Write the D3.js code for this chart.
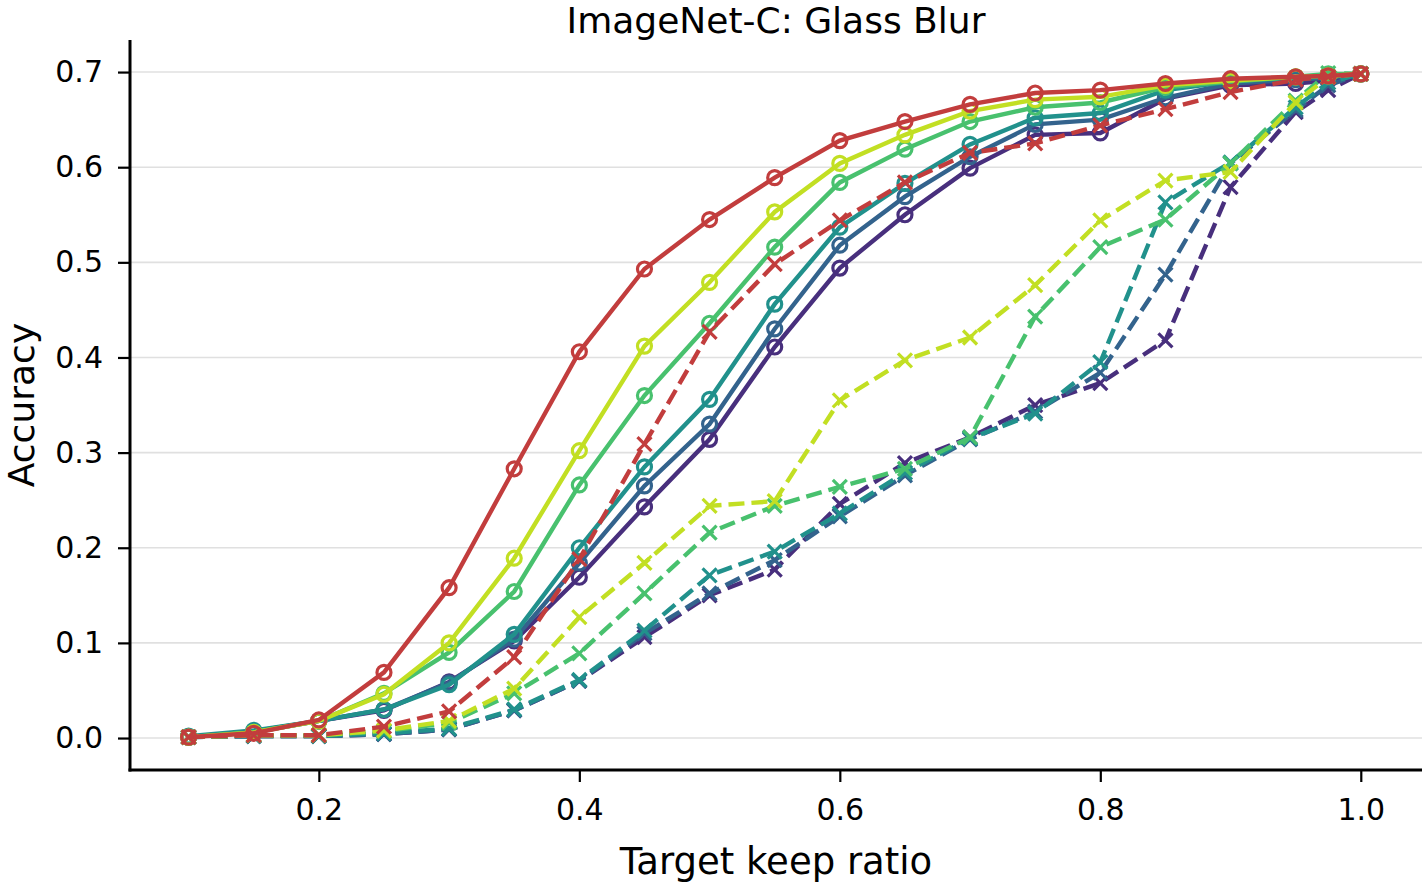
<!DOCTYPE html>
<html>
<head>
<meta charset="utf-8">
<script src="https://cdn.jsdelivr.net/npm/d3@7"></script>
<style>
body { margin: 0; background: #fff; }
svg { font-family: "DejaVu Sans", sans-serif; }
</style>
</head>
<body>
<svg id="chart" width="1424" height="883"></svg>
<script>
// keep ratios on the x axis
var ratios = [0.1, 0.15, 0.2, 0.25, 0.3, 0.35, 0.4, 0.45, 0.5, 0.55, 0.6, 0.65, 0.7, 0.75, 0.8, 0.85, 0.9, 0.95, 0.975, 1.0]

// solid lines (circle markers)
var solidPurple = [0.001, 0.006, 0.018, 0.029, 0.059, 0.102, 0.169, 0.243, 0.314, 0.411, 0.494, 0.550, 0.599, 0.634, 0.636, 0.672, 0.686, 0.688, 0.691, 0.698]
var solidBlue   = [0.001, 0.007, 0.018, 0.030, 0.058, 0.104, 0.184, 0.265, 0.330, 0.430, 0.518, 0.569, 0.611, 0.645, 0.650, 0.673, 0.688, 0.692, 0.694, 0.698]
var solidTeal   = [0.002, 0.008, 0.018, 0.030, 0.056, 0.109, 0.200, 0.285, 0.356, 0.456, 0.537, 0.583, 0.624, 0.652, 0.657, 0.681, 0.690, 0.694, 0.695, 0.698]
var solidGreen  = [0.001, 0.006, 0.018, 0.047, 0.090, 0.154, 0.266, 0.360, 0.436, 0.516, 0.584, 0.619, 0.648, 0.663, 0.668, 0.684, 0.690, 0.695, 0.698, 0.698]
var solidYellow = [0.001, 0.006, 0.018, 0.046, 0.100, 0.189, 0.302, 0.412, 0.479, 0.553, 0.604, 0.634, 0.659, 0.671, 0.674, 0.686, 0.691, 0.695, 0.696, 0.698]
var solidRed    = [0.001, 0.005, 0.019, 0.069, 0.158, 0.283, 0.406, 0.493, 0.545, 0.589, 0.628, 0.648, 0.666, 0.678, 0.681, 0.688, 0.693, 0.695, 0.696, 0.698]

// dashed lines (x markers)
var dashPurple = [0.001, 0.002, 0.002, 0.004, 0.009, 0.029, 0.060, 0.106, 0.150, 0.177, 0.246, 0.289, 0.316, 0.350, 0.373, 0.418, 0.579, 0.658, 0.681, 0.698]
var dashBlue   = [0.001, 0.002, 0.002, 0.004, 0.009, 0.029, 0.060, 0.110, 0.152, 0.187, 0.233, 0.276, 0.314, 0.343, 0.384, 0.487, 0.604, 0.660, 0.686, 0.698]
var dashTeal   = [0.001, 0.002, 0.002, 0.005, 0.010, 0.030, 0.061, 0.113, 0.171, 0.196, 0.236, 0.279, 0.315, 0.341, 0.395, 0.563, 0.605, 0.663, 0.689, 0.698]
var dashGreen  = [0.001, 0.003, 0.003, 0.007, 0.016, 0.047, 0.089, 0.152, 0.216, 0.244, 0.264, 0.283, 0.316, 0.443, 0.516, 0.545, 0.604, 0.670, 0.699, 0.698]
var dashYellow = [0.001, 0.003, 0.003, 0.008, 0.018, 0.052, 0.127, 0.184, 0.244, 0.249, 0.355, 0.397, 0.421, 0.476, 0.544, 0.586, 0.595, 0.668, 0.695, 0.698]
var dashRed    = [0.001, 0.003, 0.003, 0.012, 0.028, 0.085, 0.188, 0.309, 0.427, 0.498, 0.544, 0.584, 0.615, 0.625, 0.644, 0.661, 0.679, 0.692, 0.695, 0.698]

var xTicks = [0.2, 0.4, 0.6, 0.8, 1.0]
var yTicks = [0.0, 0.1, 0.2, 0.3, 0.4, 0.5, 0.6, 0.7]

var colors = {purple: '#482f7d', blue: '#33638d', teal: '#21918c', green: '#48c16e', yellow: '#c2df23', red: '#c23d3d'}

var series = [
	{v: solidPurple, c: colors.purple, dash: false},
	{v: dashPurple, c: colors.purple, dash: true},
	{v: solidBlue, c: colors.blue, dash: false},
	{v: dashBlue, c: colors.blue, dash: true},
	{v: solidTeal, c: colors.teal, dash: false},
	{v: dashTeal, c: colors.teal, dash: true},
	{v: solidGreen, c: colors.green, dash: false},
	{v: dashGreen, c: colors.green, dash: true},
	{v: solidYellow, c: colors.yellow, dash: false},
	{v: dashYellow, c: colors.yellow, dash: true},
	{v: dashRed, c: colors.red, dash: true},
	{v: solidRed, c: colors.red, dash: false}
]

function draw(){
	var svg = d3.select('svg#chart')
	var left = 130, right = 1422, top = 40, bottom = 770

	var scale_x = d3.scaleLinear().domain([0.055, 1.047]).range([left, right])
	var scale_y = d3.scaleLinear().domain([-0.0336, 0.7337]).range([bottom, top])

	// grid
	svg.append('g').selectAll('line')
		.data(yTicks)
		.enter()
		.append('line')
		.attr('x1', left).attr('x2', right)
		.attr('y1', function(d){return scale_y(d)})
		.attr('y2', function(d){return scale_y(d)})
		.style('stroke', '#e0e0e0')
		.style('stroke-width', 1.6)

	var line = d3.line()
		.x(function(d){return scale_x(d[0])})
		.y(function(d){return scale_y(d[1])})

	var g = svg.append('g')
	series.forEach(function(s){
		var pts = ratios.map(function(r, i){return [r, s.v[i]]})
		var sg = g.append('g')
		sg.append('path')
			.attr('d', line(pts))
			.style('fill', 'none')
			.style('stroke', s.c)
			.style('stroke-width', 4.4)
			.style('stroke-dasharray', s.dash ? '16,7' : null)
		if(s.dash){
			sg.selectAll('.mk')
				.data(pts)
				.enter()
				.append('path')
				.attr('d', 'M-7,-7L7,7M-7,7L7,-7')
				.attr('transform', function(d){return 'translate(' + scale_x(d[0]) + ',' + scale_y(d[1]) + ')'})
				.style('stroke', s.c)
				.style('stroke-width', 3.2)
		} else {
			sg.selectAll('.mk')
				.data(pts)
				.enter()
				.append('circle')
				.attr('cx', function(d){return scale_x(d[0])})
				.attr('cy', function(d){return scale_y(d[1])})
				.attr('r', 7)
				.style('fill', 'none')
				.style('stroke', s.c)
				.style('stroke-width', 3.2)
		}
	})

	// axes
	var xAxis = d3.axisBottom(scale_x).tickValues(xTicks).tickFormat(d3.format('.1f')).tickSize(12).tickPadding(17).tickSizeOuter(0)
	var yAxis = d3.axisLeft(scale_y).tickValues(yTicks).tickFormat(d3.format('.1f')).tickSize(12).tickPadding(15).tickSizeOuter(0)

	var gx = svg.append('g').attr('transform', 'translate(0,' + bottom + ')').call(xAxis)
	var gy = svg.append('g').attr('transform', 'translate(' + left + ',0)').call(yAxis)
	;[gx, gy].forEach(function(a){
		a.select('.domain').style('stroke', '#000').style('stroke-width', 3)
		a.selectAll('.tick line').style('stroke', '#000').style('stroke-width', 2.2)
		a.selectAll('.tick text').style('font-size', '30px').style('fill', '#000').style('font-family', 'DejaVu Sans')
	})
	gx.select('.domain').attr('d', 'M' + (left - 1.5) + ',0H' + right)
	gy.select('.domain').attr('d', 'M0,' + top + 'V' + (bottom + 1.5))

	// labels
	svg.append('text')
		.attr('x', (left + right) / 2).attr('y', 33)
		.attr('text-anchor', 'middle')
		.style('font-size', '36px')
		.text('ImageNet-C: Glass Blur')
	svg.append('text')
		.attr('x', (left + right) / 2).attr('y', 874)
		.attr('text-anchor', 'middle')
		.style('font-size', '37px')
		.text('Target keep ratio')
	svg.append('text')
		.attr('transform', 'translate(34,' + ((top + bottom) / 2) + ') rotate(-90)')
		.attr('text-anchor', 'middle')
		.style('font-size', '36px')
		.text('Accuracy')
}
draw()
</script>
</body>
</html>
